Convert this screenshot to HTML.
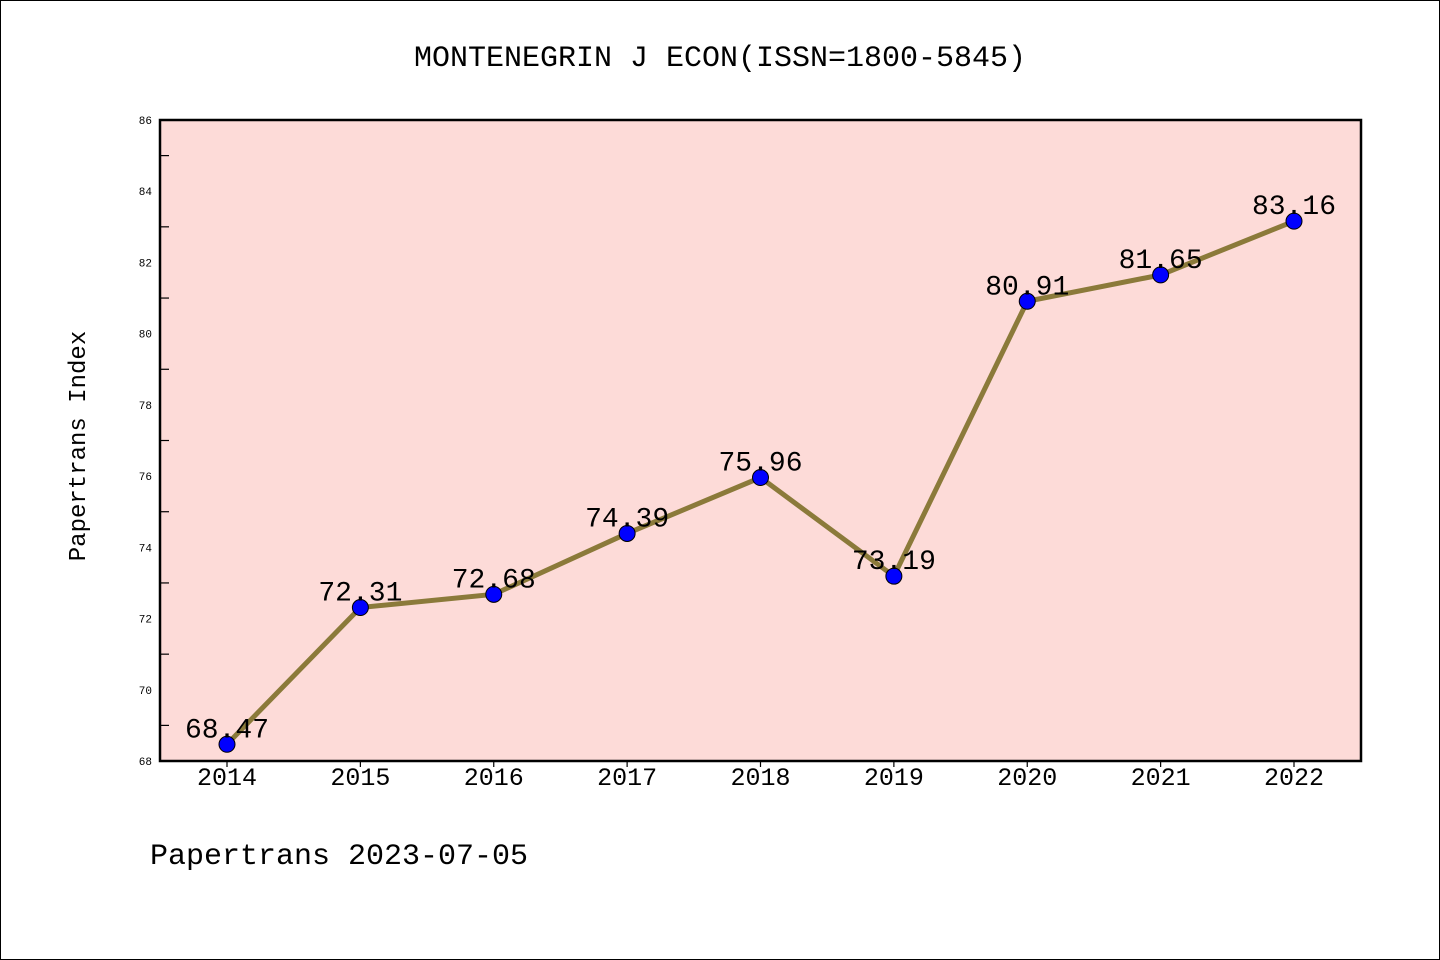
<!DOCTYPE html>
<html><head><meta charset="utf-8"><style>
html,body{margin:0;padding:0;background:#fff;}
svg{display:block;font-family:"Liberation Mono","DejaVu Sans Mono",monospace;}
</style></head><body>
<svg id="chart" width="1440" height="960" viewBox="0 0 1440 960">
<rect x="0.5" y="0.5" width="1439" height="959" fill="#fff" stroke="#000"/>
<text x="720" y="66" font-size="30" text-anchor="middle">MONTENEGRIN J ECON(ISSN=1800-5845)</text>
<rect x="160" y="120" width="1201" height="641" fill="#fddbd8"/>
<g id="axes"></g>
<g id="series"></g>
<rect x="160" y="120" width="1201" height="641" fill="none" stroke="#000" stroke-width="2.5"/>
<text x="85" y="446" font-size="24" text-anchor="middle" transform="rotate(-90 85 446)">Papertrans Index</text>
<text x="150" y="864" font-size="30">Papertrans 2023-07-05</text>
</svg>
<script>
const years = ["2014","2015","2016","2017","2018","2019","2020","2021","2022"];
const values = [68.47,72.31,72.68,74.39,75.96,73.19,80.91,81.65,83.16];
const yTicks = [68,70,72,74,76,78,80,82,84,86];
const NS="http://www.w3.org/2000/svg";
const X0=227,DX=(1294-227)/8,YB=761,YT=120,YMIN=68,YMAX=86;
function xs(i){return X0+i*DX;}
function ys(v){return YB-(v-YMIN)/(YMAX-YMIN)*(YB-YT);}
function mk(tag,attrs,parent){const e=document.createElementNS(NS,tag);for(const k in attrs)e.setAttribute(k,attrs[k]);parent.appendChild(e);return e;}
const ax=document.getElementById('axes'),sr=document.getElementById('series');
yTicks.forEach(v=>{
  const t=mk('text',{x:152,y:ys(v)+4,'font-size':11,'text-anchor':'end'},ax);
  t.textContent=v;
  
  
});
for(let v=YMIN+1;v<YMAX;v+=2){
  const l=mk('line',{x1:160,x2:169,y1:ys(v),y2:ys(v),stroke:'#000','stroke-width':1.2},ax);
  
  
}
years.forEach((y,i)=>{
  const l=mk('line',{x1:xs(i),x2:xs(i),y1:761,y2:767,stroke:'#000','stroke-width':1.2},ax);
  
  
  const t=mk('text',{x:xs(i),y:785,'font-size':25,'text-anchor':'middle'},ax);
  t.textContent=y;
  
  
});
const pl=mk('polyline',{points:values.map((v,i)=>xs(i)+','+ys(v)).join(' '),fill:'none',stroke:'#8b7a3a','stroke-width':5},sr);


values.forEach((v,i)=>{
  const c=mk('circle',{cx:xs(i),cy:ys(v),r:8,fill:'#0000ff',stroke:'#000','stroke-width':1},sr);
  
  
  const t=mk('text',{x:xs(i),y:ys(v)-7,'font-size':28,'text-anchor':'middle'},sr);
  t.textContent=v.toFixed(2);
  
  
});
</script>
</body></html>
